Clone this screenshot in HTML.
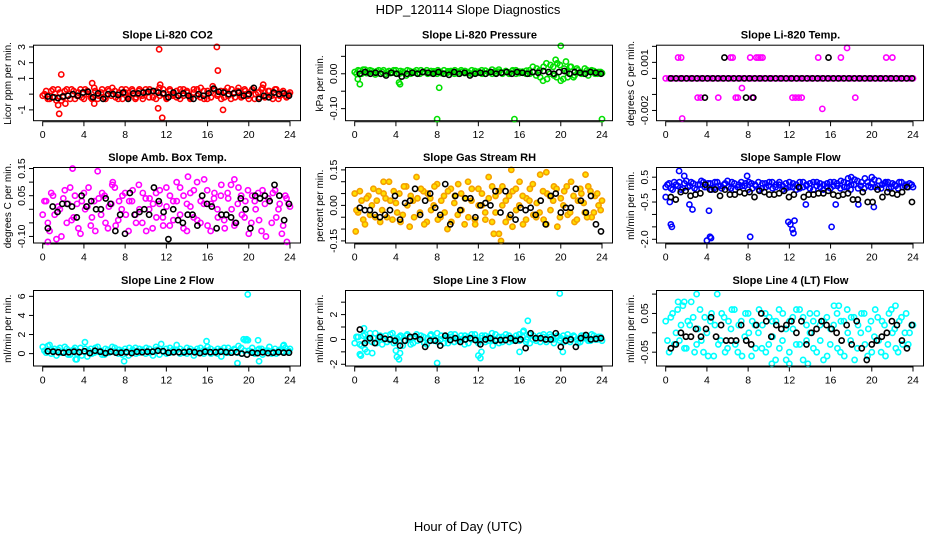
<!DOCTYPE html>
<html><head><meta charset="utf-8">
<style>
html,body{margin:0;padding:0;background:#fff;}
svg{display:block;font-family:"Liberation Sans",Arial,sans-serif;}
</style></head>
<body>
<svg id="chart" width="936" height="540" viewBox="0 0 936 540">
<rect width="936" height="540" fill="#fff"/>
<text x="468" y="14" text-anchor="middle" font-size="13">HDP_120114  Slope Diagnostics</text>
<text x="468" y="531" text-anchor="middle" font-size="13">Hour of Day (UTC)</text>
</svg>
<script>
const xTicks=[0,4,8,12,16,20,24];

const p1Col=[-0.1,0.2,-0.3,0.3,-0.4,0.1,-0.2,0.3,-0.3,0.2,-0.1,0.3,-0.3,0.2,-0.2,0.4,-0.3,0.1,-0.2,0.3,-0.1,0.2,-0.3,0.3,0.1,-0.2,0.3,-0.3,0.2,-0.1,0.3,-0.2,0.2,-0.3,0.4,0.0,-0.2,0.3,-0.1,0.2,-0.3,0.3,0.1,-0.2,0.3,-0.1,0.4,-0.3,0.2,-0.2,0.3,0.0,-0.3,0.2,-0.1,0.3,-0.2,0.4,-0.1,0.2,-0.3,0.3,0.0,-0.2,0.4,-0.1,0.2,-0.3,0.3,-0.1,0.2,-0.2,0.1];
const p1Col2=[0.0,-0.3,0.2,-0.2,0.3,-0.4,0.2,-0.1,0.3,-0.3,0.1,-0.2,0.3,0.0,-0.3,0.2,-0.1,0.3,-0.3,0.2,0.4,-0.2,0.1,-0.3,0.3,-0.1,0.2,-0.2,0.3,-0.3,0.1,0.3,-0.2,0.2,-0.1,0.3,-0.3,0.2,0.0,-0.2,0.3,-0.1,0.2,-0.3,0.1,0.3,-0.2,0.2,-0.3,0.1,0.3,-0.1,0.2,-0.2,0.4,-0.3,0.1,0.2,-0.2,0.3,-0.1,0.2,-0.3,0.1,0.3,-0.2,0.2,-0.1,0.3,-0.3,0.1,-0.1,0.0];
const p1OutX=[1.5,1.6,1.8,2.2,4.8,5.0,11.3,11.2,11.4,11.6,16.9,17.0,17.5,16.5,21.4];
const p1OutY=[-0.7,-1.25,1.25,-0.6,0.7,-0.6,2.85,-0.9,0.6,-1.5,3.0,1.5,-1.0,0.5,0.6];
const p1Blk=[-0.15,-0.2,-0.25,-0.15,-0.1,0,-0.1,0.1,0.15,-0.2,0.05,-0.3,0,0.0,-0.05,0.1,-0.3,0.05,0.05,0.1,0.15,0.2,0.1,0.05,-0.2,0.1,-0.1,0.05,-0.1,-0.3,0,-0.1,0.05,0.35,0.15,0.1,0,0.05,0.1,-0.1,0.0,0.4,-0.3,-0.1,-0.2,0.1,0,0.05,-0.1];

const p2Col=[0.005,0.01,0.0,0.012,0.003,0.008,-0.002,0.01,0.005,0.0,0.008,0.003,0.01,0.0,0.006,-0.005,0.008,0.003,0.01,0.0,0.005,0.01,0.002,0.007,0.0,0.005,0.01,0.003,0.008,0.0,0.006,0.01,0.002,0.005,0.0,0.008,0.003,0.01,0.0,0.005,0.012,0.002,0.006,0.0,0.008,0.004,0.01,0.0,0.006,0.003,0.009,0.0,0.005,0.015,-0.01,0.02,-0.015,0.025,-0.005,0.03,-0.02,0.015,-0.01,0.02,-0.005,0.01,0.0,0.015,-0.005,0.01,0.0,0.005,0.002];
const p2Col2=[0.0,0.008,0.012,0.002,0.01,0.004,0.007,0.0,0.01,0.005,0.002,0.01,0.0,0.008,0.003,0.01,0.0,0.006,0.002,0.01,0.005,0.0,0.008,0.003,0.01,0.002,0.0,0.007,0.004,0.01,0.0,0.005,0.008,0.002,0.01,0.003,0.006,0.0,0.009,0.004,0.0,0.008,0.012,0.003,0.006,0.0,0.008,0.01,0.002,0.006,0.0,0.01,0.02,-0.005,0.01,-0.02,0.03,0.0,0.02,-0.01,0.025,-0.015,0.005,0.02,-0.01,0.015,0.005,0.0,0.01,0.005,0.008,0.0,0.005];
const p2OutX=[0.3,0.5,4.3,4.4,8.0,8.2,15.5,20.0,24,19.5,20.5];
const p2OutY=[-0.015,-0.03,-0.025,-0.03,-0.13,-0.04,-0.13,0.08,-0.13,0.04,0.035];
const p2Blk=[0.0,0.005,0.0,0.003,0.0,-0.005,0.003,0.0,-0.008,0.0,0.003,0.0,0.005,0.003,0.0,0.005,0.0,-0.003,0.005,0.0,0.003,-0.005,0.0,0.003,0.0,0.005,0.0,0.003,0.005,0.0,0.005,0.003,0.0,0.005,0.003,0.008,0.005,0.0,0.005,0.008,0.0,0.005,0.003,0.0,0.005,0.003,0.0];

const p3Col=[0,0,0,0,0,0,0,0,0,0,0,0,0,0,0,0,0,0,0,0,0,0,0,0,0,0,0,0,0,0,0,0,0,0,0,0,0,0,0,0,0,0,0,0,0,0,0,0,0,0,0,0,0,0,0,0,0,0,0,0,0,0,0,0,0,0,0,0,0,0,0,0,0];
const p3OutX=[1.2,1.5,6.3,6.5,8.2,8.8,9.0,9.2,9.4,14.8,17.0,21.4,22.0,3.1,3.4,7.0,6.8,8.4,12.3,12.6,12.9,13.2,18.4,5.1,7.4,15.2,1.6,17.6];
const p3OutY=[0.0013,0.0013,0.0013,0.0013,0.0013,0.0013,0.0013,0.0013,0.0013,0.0013,0.0013,0.0013,0.0013,-0.0012,-0.0012,-0.0012,-0.0012,-0.0012,-0.0012,-0.0012,-0.0012,-0.0012,-0.0012,-0.0012,-0.0006,-0.0019,-0.0025,0.0019];
const p3Blk=[0,0,0,0,0,0,0,0,0,0,0,0,0,0,0,0,0,0,0,0,0,0,0,0,0,0,0,0,0,0,0,0,0,0,0,0,0,0,0,0,0,0,0,0,0,0,0];
const p3BOutX=[3.8,7.8,8.5,5.7,15.8];
const p3BOutY=[-0.0012,-0.0012,-0.0012,0.0013,0.0013];

const p4Col=[-0.02,0.03,-0.08,0.05,-0.11,0.0,0.04,-0.05,0.08,-0.03,0.02,-0.09,0.06,0.01,-0.06,0.03,0.14,-0.02,0.05,-0.07,0.02,0.08,-0.04,0.0,0.06,-0.08,0.03,-0.02,0.09,-0.05,0.04,0.0,-0.07,0.06,0.02,-0.03,0.08,-0.06,0.03,0.1,-0.02,0.05,-0.08,0.01,0.07,-0.04,0.03,0.11,-0.06,0.02,0.06,-0.03,0.09,-0.07,0.04,0.0,-0.05,0.08,-0.02,0.03,-0.09,0.05,0.0,-0.04,0.07,-0.1,0.03,0.06,-0.03,0.02,-0.06,0.04,0.01];
const p4Col2=[0.03,-0.05,0.06,-0.02,0.01,-0.1,0.07,0.02,-0.04,0.05,-0.07,0.03,0.0,0.08,-0.03,-0.08,0.04,0.06,-0.05,0.01,0.09,-0.06,0.03,0.05,-0.02,0.03,0.07,-0.05,0.0,0.06,-0.08,0.04,0.02,-0.03,0.07,-0.06,0.01,0.05,-0.04,0.03,0.08,-0.07,0.02,0.06,-0.03,0.1,-0.05,0.02,0.07,-0.08,0.04,0.0,0.05,-0.04,0.06,0.09,-0.06,0.02,0.05,-0.03,0.07,-0.05,0.03,0.06,-0.08,0.02,0.04,-0.05,0.07,0.0,-0.09,0.05,0.02];
const p4OutX=[0.5,2.9,6.8,14.1,18.6,23.7];
const p4OutY=[-0.12,0.15,0.1,0.12,0.11,-0.12];
const p4Blk=[-0.07,0.01,-0.01,0.02,0.02,0.01,-0.03,0.05,0.01,0.03,0.0,0.0,0.04,0.02,-0.08,-0.02,-0.09,0.06,-0.02,-0.01,0.0,-0.02,0.08,0.03,-0.01,-0.11,0.0,-0.04,-0.05,-0.02,-0.02,-0.06,0.05,0.02,0.01,-0.07,-0.02,-0.02,-0.03,-0.05,0.04,0.0,-0.07,0.05,0.04,0.05,0.03,0.09,0.05,-0.04,0.02];

const p5Col=[0.05,-0.03,0.02,-0.08,0.04,0.0,-0.05,0.06,-0.02,0.03,0.1,-0.06,0.01,0.05,-0.04,0.08,-0.09,0.02,0.12,-0.03,0.06,-0.07,0.03,0.0,0.09,-0.05,0.04,-0.1,0.07,0.01,-0.04,0.05,-0.08,0.1,0.02,-0.06,0.07,0.0,-0.03,0.12,-0.07,0.04,-0.12,0.08,0.02,-0.05,0.06,-0.02,0.1,-0.08,0.03,0.07,-0.04,0.01,0.13,-0.06,0.05,-0.02,0.08,-0.09,0.03,0.06,-0.04,0.1,-0.07,0.02,0.05,-0.03,0.08,-0.05,0.04,0.0,0.02];
const p5Col2=[-0.02,0.06,-0.06,0.03,-0.04,0.07,0.02,-0.07,0.05,-0.05,0.02,0.06,-0.03,-0.07,0.08,0.0,0.04,-0.05,0.03,0.07,-0.08,0.05,-0.02,0.08,-0.06,0.02,-0.03,0.06,-0.07,0.04,0.09,-0.02,0.03,-0.05,0.07,-0.08,0.0,0.05,-0.06,0.03,0.08,-0.03,0.06,0.0,-0.07,0.04,-0.09,0.07,0.0,0.04,-0.06,0.02,0.09,-0.05,-0.03,0.06,-0.08,0.04,0.02,0.07,-0.05,0.0,0.08,-0.03,0.04,-0.06,0.07,0.01,-0.05,0.06,-0.03,0.05,-0.02];
const p5OutX=[0.1,2.8,13.5,14.2,15.2,18.6,22.4];
const p5OutY=[-0.11,0.1,-0.12,-0.15,0.15,0.14,0.13];
const p5Blk=[-0.01,-0.02,-0.02,-0.04,-0.05,-0.04,-0.02,0.04,-0.06,0.01,0.02,0.07,-0.04,0.02,0.05,-0.01,-0.04,0.09,-0.08,0.04,-0.02,0.03,0.03,-0.05,0.0,0.01,0.0,0.06,-0.03,0.06,-0.04,-0.06,-0.01,-0.02,-0.01,-0.04,0.02,-0.08,0.04,0.05,-0.03,-0.01,-0.01,0.07,0.02,-0.03,0.04,-0.08,-0.11];

const p6Col=[0.1,0.25,0.0,0.2,0.3,0.05,0.35,0.15,0.25,0.0,0.2,0.3,0.1,0.25,0.05,0.3,0.15,0.2,0.35,0.05,0.25,0.1,0.3,0.15,0.0,0.25,0.2,0.3,0.05,0.25,0.15,0.3,0.1,0.2,0.0,0.25,0.3,0.1,0.2,0.05,0.3,0.15,0.25,0.0,0.3,0.1,0.2,0.25,0.05,0.3,0.15,0.35,0.1,0.25,0.2,0.4,0.05,0.3,0.45,0.15,0.25,0.1,0.35,0.2,0.3,0.05,0.25,0.15,0.3,0.1,0.2,0.25,0.1];
const p6Col2=[0.2,0.05,0.3,0.15,0.0,0.25,0.1,0.3,0.05,0.2,0.35,0.1,0.25,0.0,0.3,0.15,0.05,0.25,0.1,0.3,0.0,0.2,0.15,0.25,0.3,0.05,0.15,0.0,0.25,0.1,0.3,0.05,0.2,0.3,0.15,0.05,0.1,0.25,0.0,0.3,0.1,0.2,0.05,0.3,0.15,0.25,0.0,0.1,0.3,0.15,0.25,0.05,0.3,0.1,0.0,0.2,0.35,0.15,0.05,0.3,0.1,0.4,0.15,0.05,0.25,0.3,0.1,0.2,0.05,0.3,0.15,0.1,0.2];
const p6OutX=[0,0.4,0.5,0.6,1.3,1.8,2.3,2.6,4.0,4.3,4.4,4.2,7.9,8.2,11.9,12.1,12.3,12.4,12.5,13.6,16.1,16.5,17.7,18.0,18.7,20.2,20.0];
const p6OutY=[-0.3,-0.5,-1.4,-1.5,0.75,0.55,-0.6,-0.8,-2.05,-1.9,-1.95,-0.85,0.55,-1.9,-1.3,-1.4,-1.6,-1.75,-1.25,-0.6,-1.5,-0.6,0.45,0.5,-0.6,-0.7,0.5];
const p6Blk=[-0.3,-0.4,-0.1,-0.05,-0.25,-0.2,-0.15,0.2,0.0,0.0,-0.25,0.0,-0.2,-0.2,-0.1,-0.15,-0.1,-0.3,-0.05,-0.1,-0.2,-0.2,-0.15,-0.05,-0.3,-0.2,0.1,-0.3,-0.2,-0.2,-0.15,-0.15,-0.05,-0.2,-0.25,-0.2,-0.15,-0.4,-0.4,-0.1,-0.5,-0.5,0.0,-0.3,-0.1,-0.15,-0.2,-0.1,0.1,-0.5];

const p7Col=[0.7,0.1,0.9,0.3,-0.2,0.6,0.2,0.5,-0.1,0.4,0.0,0.6,0.2,-0.3,0.5,0.1,0.7,0.3,-0.1,0.4,0.2,0.6,0.0,0.3,0.5,-0.2,0.2,0.6,0.1,0.4,0.0,0.5,0.2,0.7,-0.1,0.3,0.5,0.1,0.4,0.9,0.0,0.3,0.6,0.2,-0.2,0.5,0.1,0.4,0.7,0.0,0.3,0.5,-0.3,0.2,0.6,0.1,0.4,0.8,0.0,1.4,0.3,0.6,0.1,0.5,-0.1,0.3,0.7,0.2,0.0,0.4,0.8,0.2,0.5];
const p7Col2=[0.3,0.8,0.0,0.5,0.4,0.1,0.7,-0.1,0.3,0.6,0.2,-0.2,0.5,0.3,0.0,0.6,0.2,-0.1,0.5,0.1,0.7,0.3,0.4,-0.1,0.2,0.6,0.4,0.0,0.5,0.2,0.6,0.1,-0.2,0.4,0.5,0.2,0.0,0.6,0.2,0.4,0.5,0.1,0.0,0.5,0.3,0.2,0.6,0.0,0.3,0.5,0.2,0.0,0.4,0.6,0.1,0.3,0.5,0.1,0.6,0.3,1.4,0.2,0.0,0.4,0.5,0.2,0.3,0.0,0.5,0.3,0.2,0.6,0.3];
const p7OutX=[3.3,3.2,4.1,7.9,11.5,15.9,18.9,19.9,19.5,19.8,20.9,21.0,23.4];
const p7OutY=[-0.6,-0.6,1.2,-0.8,1.0,1.3,-1.0,6.2,1.5,1.5,1.4,-0.8,0.9];
const p7Blk=[0.25,0.2,0.15,0.1,0.15,0.2,0.15,0.25,0.05,0.3,0.2,0.05,0.2,0.1,0.1,0.15,0.05,0.2,0.15,0.2,0.2,0.3,0.25,0.1,0.15,0.15,0.15,0.2,0.15,0.05,0.2,0.15,0.15,0.2,0.15,0.1,0.15,0.0,-0.1,0.1,0.05,0.15,0.05,0.1,0.15,0.1,0.1];

const p8Col=[-0.3,0.2,-0.5,0.4,0.0,-0.2,0.5,0.1,-0.4,0.3,0.0,0.5,-0.2,0.2,-0.5,0.3,0.1,-0.3,0.4,0.0,0.2,-0.4,0.3,-0.1,0.5,0.0,-0.3,0.2,0.4,-0.2,0.1,0.3,-0.4,0.2,0.0,0.4,-0.3,0.1,0.3,-0.1,0.5,0.0,-0.3,0.2,0.4,-0.2,0.1,0.3,-0.1,0.6,0.0,-0.3,0.3,0.1,-0.2,0.4,0.0,0.2,-0.3,0.3,0.1,-0.2,0.4,0.0,0.2,-0.3,0.3,0.1,-0.1,0.4,0.0,0.2,-0.1];
const p8Col2=[0.2,-0.4,0.3,-0.1,0.5,0.1,-0.3,0.3,0.0,-0.2,0.4,-0.3,0.1,0.3,-0.1,0.4,-0.4,0.2,-0.1,0.3,-0.3,0.1,0.4,0.0,-0.2,0.3,0.1,-0.3,0.2,0.4,-0.1,0.0,0.3,-0.3,0.4,0.1,-0.1,0.3,-0.2,0.2,0.0,0.4,0.2,-0.2,0.1,0.3,-0.1,0.0,0.4,0.2,-0.2,0.4,0.0,-0.1,0.3,0.2,-0.2,0.4,0.0,0.2,-0.1,0.3,0.1,-0.2,0.3,0.0,-0.2,0.3,0.1,-0.1,0.3,0.0,0.2];
const p8OutX=[0.6,0.5,0.9,1.0,1.2,1.7,4.0,4.1,4.3,4.4,8.0,12.0,12.2,12.3,16.0,16.8,19.9,20.2,16.4,13.4];
const p8OutY=[-1.3,-1.2,0.9,-0.8,-1.0,-1.1,-0.9,-1.4,-1.6,-1.1,-1.9,-1.3,-1.5,-1.0,-1.0,1.5,3.7,-1.0,0.7,-0.5];
const p8Blk=[0.8,-0.3,0.1,-0.3,0.2,0.05,0.0,-0.1,-0.5,-0.1,0.2,0.25,0.0,-0.6,-0.1,-0.1,-0.5,0.3,-0.05,0.1,-0.2,0.0,0.1,-0.05,-0.4,0.0,0.1,-0.1,-0.05,-0.05,0.1,-0.1,0.0,-0.7,0.5,0.1,0.1,0.0,0.0,0.5,-0.6,-0.1,0.0,-0.6,0.1,0.35,0.0,0.05,0.1];

const p9Col=[0.03,-0.05,0.05,0.0,-0.02,0.07,-0.04,0.02,0.04,-0.03,0.06,-0.05,0.0,0.03,-0.06,0.1,-0.02,0.04,-0.04,0.01,0.06,-0.05,0.03,-0.01,0.05,-0.06,0.02,0.0,-0.04,0.05,-0.03,0.03,-0.07,0.06,-0.02,0.01,-0.05,0.04,-0.03,0.06,-0.07,0.02,0.0,-0.04,0.05,-0.02,0.03,-0.06,0.01,0.07,-0.04,0.03,-0.06,0.0,0.04,-0.07,0.02,0.05,-0.03,0.01,-0.05,0.06,-0.02,0.03,-0.06,0.05,0.0,-0.04,0.03,-0.03,0.05,0.0,0.02];
const p9Col2=[-0.02,0.04,-0.03,0.06,0.02,-0.04,0.03,0.08,-0.05,0.01,-0.02,0.04,-0.06,0.05,0.02,-0.03,0.05,-0.05,0.03,0.06,-0.03,0.02,-0.06,0.05,0.0,0.03,-0.04,0.06,0.02,-0.05,0.04,-0.01,0.03,-0.04,0.05,-0.07,0.03,0.01,0.06,-0.03,0.04,-0.02,0.05,0.03,-0.05,0.02,-0.07,0.04,-0.03,0.02,0.05,-0.05,0.03,0.06,-0.02,0.04,-0.04,0.0,0.05,-0.06,0.03,-0.01,0.04,-0.05,0.02,-0.03,0.06,0.01,-0.05,0.04,0.0,-0.03,0.02];
const p9OutX=[3.0,1.2,1.8,10.3,12.0,13.8,16.8,22.3];
const p9OutY=[0.1,0.08,0.08,-0.08,-0.08,-0.08,0.07,0.07];
const p9Blk=[-0.04,-0.03,0.0,-0.01,-0.01,0.01,-0.01,0.01,0.04,-0.01,0.02,-0.02,-0.02,-0.02,0.02,-0.02,-0.03,0.02,0.05,0.03,-0.01,0.02,0.01,0.02,0.03,0.0,0.03,-0.03,0.0,0.01,0.03,0.02,0.01,0.0,-0.02,0.02,-0.03,0.03,-0.04,-0.07,-0.03,-0.02,-0.01,0.0,0.03,0.02,-0.02,-0.04,0.02];

const panels=[
 {name:'co2',title:'Slope Li-820 CO2',ylab:'Licor ppm per min.',col:0,row:0,top:3.08,bot:-1.72,ticks:[3,2,1,0,-1],labs:['3','2','1','','-1'],color:'#ff0000',c1:p1Col,c2:p1Col2,ox:p1OutX,oy:p1OutY,blk:p1Blk},
 {name:'pressure',title:'Slope Li-820 Pressure',ylab:'kPa per min.',col:1,row:0,top:0.0805,bot:-0.136,ticks:[0.05,0,-0.05,-0.1],labs:['','0.00','','-0.10'],color:'#00e000',c1:p2Col,c2:p2Col2,ox:p2OutX,oy:p2OutY,blk:p2Blk},
 {name:'temp',title:'Slope Li-820 Temp.',ylab:'degrees C per min.',col:2,row:0,top:0.00204,bot:-0.00267,ticks:[0.002,0.001,0,-0.001,-0.002],labs:['','0.001','','','-0.002'],color:'#ff00ff',c1:p3Col,c2:[],ox:p3OutX,oy:p3OutY,blk:p3Blk,bx:p3BOutX,by:p3BOutY},
 {name:'amb-temp',title:'Slope Amb. Box Temp.',ylab:'degrees C per min.',col:0,row:1,top:0.152,bot:-0.126,ticks:[0.15,0.1,0.05,0,-0.05,-0.1],labs:['0.15','','0.05','','','-0.10'],color:'#ff00ff',c1:p4Col,c2:p4Col2,ox:p4OutX,oy:p4OutY,blk:p4Blk},
 {name:'rh',title:'Slope Gas Stream RH',ylab:'percent per min.',col:1,row:1,top:0.158,bot:-0.161,ticks:[0.15,0.1,0.05,0,-0.05,-0.1,-0.15],labs:['0.15','','','0.00','','','-0.15'],color:'#f5a000',fill:'#ffe000',c1:p5Col,c2:p5Col2,ox:p5OutX,oy:p5OutY,blk:p5Blk},
 {name:'sample-flow',title:'Slope Sample Flow',ylab:'ml/min per min.',col:2,row:1,top:0.87,bot:-2.17,ticks:[0.5,0,-0.5,-1,-1.5,-2],labs:['0.5','','-0.5','','','-2.0'],color:'#0000ff',c1:p6Col,c2:p6Col2,ox:p6OutX,oy:p6OutY,blk:p6Blk},
 {name:'line2-flow',title:'Slope Line 2 Flow',ylab:'ml/min per min.',col:0,row:2,top:6.56,bot:-1.35,ticks:[6,4,2,0],labs:['6','4','2','0'],color:'#00ffff',c1:p7Col,c2:p7Col2,ox:p7OutX,oy:p7OutY,blk:p7Blk},
 {name:'line3-flow',title:'Slope Line 3 Flow',ylab:'ml/min per min.',col:1,row:2,top:3.9,bot:-2.18,ticks:[3,2,1,0,-1,-2],labs:['','2','','0','','-2'],color:'#00ffff',c1:p8Col,c2:p8Col2,ox:p8OutX,oy:p8OutY,blk:p8Blk},
 {name:'line4-flow',title:'Slope Line 4 (LT) Flow',ylab:'ml/min per min.',col:2,row:2,top:0.108,bot:-0.087,ticks:[0.1,0.05,0,-0.05],labs:['','0.05','','-0.05'],color:'#00ffff',c1:p9Col,c2:p9Col2,ox:p9OutX,oy:p9OutY,blk:p9Blk}
];
const colLeft=[34,346,657], rowTop=[45.7,168,291], BW=267, BH=75.5;
const NS='http://www.w3.org/2000/svg';
const svg=document.getElementById('chart');
function mk(tag,attrs,parent){const e=document.createElementNS(NS,tag);for(const k in attrs)e.setAttribute(k,attrs[k]);(parent||svg).appendChild(e);return e;}

panels.forEach(p=>{
 const L=colLeft[p.col],T=rowTop[p.row],B=T+BH;
 const xs=h=>L+8.7+h*(247.3/24);
 const ys=v=>T+(p.top-v)/(p.top-p.bot)*BH;
 const g=mk('g',{});
 
 
 const t=mk('text',{x:L+BW/2,y:T-7,'text-anchor':'middle','font-size':'11','font-weight':'bold'},g);
 t.textContent=p.title;
 
 
 const yl=mk('text',{x:0,y:0,'text-anchor':'middle','font-size':'10',transform:`translate(${L-23},${T+BH/2}) rotate(-90)`},g);
 yl.textContent=p.ylab;
 
 
 mk('line',{x1:xs(0),x2:xs(24),y1:B+0.5,y2:B+0.5,stroke:'#000','stroke-width':1},g);
 xTicks.forEach(v=>{
  mk('line',{x1:xs(v),x2:xs(v),y1:B,y2:B+5,stroke:'#000'},g);
  const tx=mk('text',{x:xs(v),y:B+17,'text-anchor':'middle','font-size':'10.5'},g);
  tx.textContent=v;
  
  
 });
 const yt=p.ticks.map(ys);
 mk('line',{x1:L-0.5,x2:L-0.5,y1:Math.min(...yt),y2:Math.max(...yt),stroke:'#000'},g);
 p.ticks.forEach((v,i)=>{
  const y=ys(v);
  mk('line',{x1:L-5,x2:L,y1:y,y2:y,stroke:'#000'},g);
  if(p.labs[i]){
   const ty=mk('text',{x:0,y:0,'text-anchor':'middle','font-size':'10.5',transform:`translate(${L-9},${y}) rotate(-90)`},g);
   ty.textContent=p.labs[i];
   
   
  }
 });
 const fill=p.fill||'none';
 const pt=(h,v,color,f,nm)=>{
  const c=mk('circle',{cx:xs(h),cy:ys(v),r:2.6,fill:f,stroke:color,'stroke-width':1.6},g);
  
  
 };
 p.c1.forEach((v,i)=>pt(i*24/(p.c1.length-1),v,p.color,fill,'data-point'));
 p.c2.forEach((v,i)=>pt(0.17+i*23.7/(p.c2.length-1),v,p.color,fill,'data-point'));
 p.ox.forEach((h,i)=>pt(h,p.oy[i],p.color,fill,'outlier-point'));
 p.blk.forEach((v,i)=>pt(0.5+i*23.4/(p.blk.length-1),v,'#000','none','reference-point'));
 if(p.bx)p.bx.forEach((h,i)=>pt(h,p.by[i],'#000','none','reference-point'));
 const r=mk('rect',{x:L-0.5,y:T-0.5,width:BW,height:BH,fill:'none',stroke:'#000','stroke-width':1},g);
 
 
});
</script>
</body></html>
